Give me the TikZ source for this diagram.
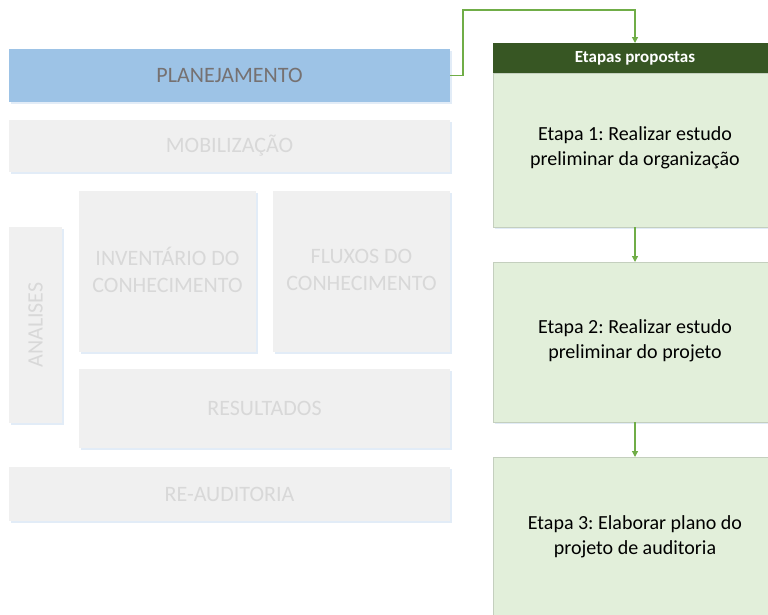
\documentclass[tikz,border=0pt]{standalone}
\usepackage{fontspec}
\setmainfont{Carlito}
\usetikzlibrary{arrows.meta}
\frenchspacing
\definecolor{planfill}{HTML}{9DC3E6}
\definecolor{plantext}{HTML}{767171}
\definecolor{grayfill}{HTML}{F0F0F0}
\definecolor{graytext}{HTML}{D8D8D8}
\definecolor{shadowc}{HTML}{E2ECF7}
\definecolor{hdrfill}{HTML}{375623}
\definecolor{stepfill}{HTML}{E2EFDA}
\definecolor{stepline}{HTML}{C4CFBE}
\definecolor{arrowc}{HTML}{70AD47}
\tikzset{
  x=1pt, y=-1pt,
  box/.style={draw=none, inner sep=0pt, align=center},
  grayt/.style={text=graytext, font=\fontsize{22}{27}\selectfont},
  stept/.style={text=black, font=\fontsize{20}{24.5}\selectfont, align=center},
  conn/.style={draw=arrowc, line width=1.2pt, -{Triangle[length=6pt,width=6pt]}},
}
\newcommand{\shbox}[6]{% name, x1,y1,x2,y2, fill
  \fill[shadowc] (#2+1.5,#3+1.5) rectangle (#4+1.5,#5+1.5);
  \fill[#6] (#2,#3) rectangle (#4,#5);
  \coordinate (#1) at ({(#2+#4)/2},{(#3+#5)/2});
}
\begin{document}
\begin{tikzpicture}
\useasboundingbox (0,0) rectangle (768,614);
\clip (0,0) rectangle (768,614);
% left boxes
\shbox{plan}{9}{49}{450}{102}{planfill}
\node[box, text=plantext, font=\fontsize{22}{26}\selectfont] (plant) at (plan) {PLANEJAMENTO};
\shbox{mob}{9}{120}{450}{172}{grayfill}
\node[box, grayt] (mobt) at (mob) {MOBILIZAÇÃO};
\shbox{ana}{9}{227}{62}{423}{grayfill}
\node[box, grayt, rotate=90] (anat) at (ana) {ANALISES};
\shbox{inv}{79}{191}{256}{352}{grayfill}
\node[box, grayt] (invt) at (167.5,270) {INVENTÁRIO DO\\CONHECIMENTO};
\shbox{flu}{273}{191}{450}{352}{grayfill}
\node[box, grayt] (flut) at (361.5,270) {FLUXOS DO\\CONHECIMENTO};
\shbox{res}{79}{369}{450}{448}{grayfill}
\node[box, grayt] (rest) at (res) {RESULTADOS};
\shbox{rea}{9}{467}{450}{521}{grayfill}
\node[box, grayt] (reat) at (rea) {RE-AUDITORIA};
% right column
\fill[shadowc] (494.5,44.5) rectangle (778,229);
\fill[hdrfill] (493,43) rectangle (778,73);
\node[box, text=white, font=\bfseries\fontsize{17}{20}\selectfont] (hdr) at (635,58) {Etapas propostas};
\filldraw[fill=stepfill, draw=stepline, line width=0.6pt] (493,73) rectangle (778,227);
\node[stept] (e1) at (635,148) {Etapa 1: Realizar estudo\\preliminar da organização};
\fill[shadowc] (494.5,263.5) rectangle (778,424);
\filldraw[fill=stepfill, draw=stepline, line width=0.6pt] (493,262) rectangle (778,422);
\node[stept] (e2) at (635,341) {Etapa 2: Realizar estudo\\preliminar do projeto};
\filldraw[fill=stepfill, draw=stepline, line width=0.6pt] (493,457) rectangle (778,625);
\node[stept] (e3) at (635,537) {Etapa 3: Elaborar plano do\\projeto de auditoria};
% connectors
\coordinate (pr) at (450,75.5);
\coordinate (k1) at (463,75.5);
\coordinate (k2) at (463,10);
\coordinate (k3) at (635,10);
\coordinate (ht) at (635,43);
\coordinate (b1) at (635,227);
\coordinate (t2) at (635,262);
\coordinate (b2) at (635,422);
\coordinate (t3) at (635,457);
\draw[conn] (pr) -- (k1) -- (k2) -- (k3) -- (ht);
\draw[conn] (b1) -- (t2);
\draw[conn] (b2) -- (t3);
\end{tikzpicture}
\end{document}
